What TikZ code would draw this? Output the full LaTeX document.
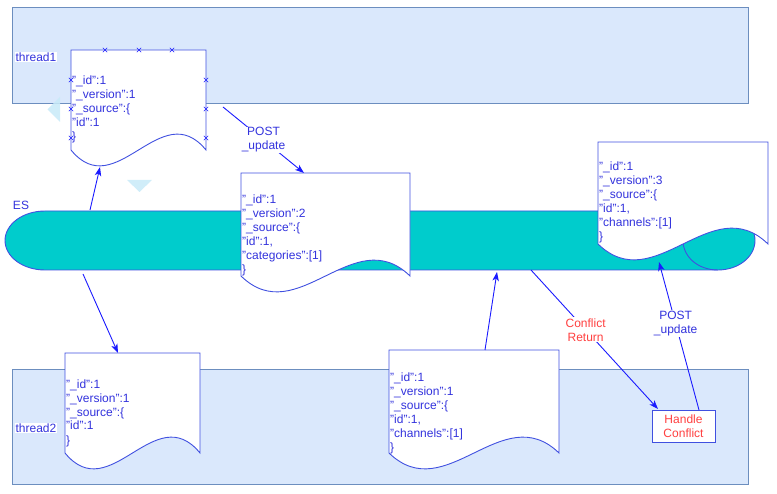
\documentclass[tikz,border=0pt]{standalone}
\usepackage{fontspec}
\setmainfont{Liberation Sans}
\usetikzlibrary{arrows.meta}
\definecolor{boxfill}{HTML}{DAE8FC}
\definecolor{boxline}{HTML}{6C8EBF}
\definecolor{escyan}{HTML}{00CCCC}
\definecolor{docline}{HTML}{4050E0}
\definecolor{txtblue}{HTML}{3333DD}
\definecolor{arrblue}{HTML}{1A1AFF}
\definecolor{txtred}{HTML}{FF4040}
\definecolor{hoverblue}{HTML}{C8EAF8}
\newcommand{\docpath}[4]{%
  \filldraw[docshape] (#1,#2) -- (#3,#2) -- (#3,#4)
    .. controls ({#1+(#3-#1)*2/3},{#4-55}) and ({#1+(#3-#1)/3},{#4+55}) .. (#1,#4) -- cycle;}
\newcommand{\selmark}[2]{%
  \draw[selmk] (#1-2.2,#2-2.2) -- (#1+2.2,#2+2.2) (#1-2.2,#2+2.2) -- (#1+2.2,#2-2.2);}
\begin{document}
\begin{tikzpicture}[x=1pt,y=-1pt,
  every node/.style={font=\fontsize{12}{14}\selectfont},
  thread/.style={fill=boxfill,draw=boxline,line width=1pt},
  docshape/.style={fill=white,draw=docline,line width=0.9pt},
  doctext/.style={text=txtblue,align=left,inner sep=0pt,anchor=base west},
  esshape/.style={fill=escyan,draw=docline,line width=0.9pt},
  conn/.style={draw=arrblue,line width=0.9pt,-{Stealth[length=9pt,width=6.5pt,inset=2.5pt]}},
  lbl/.style={fill=white,align=center,inner sep=1pt},
  tlabel/.style={fill=white,text=txtblue,inner sep=1pt},
  selmk/.style={draw=arrblue,line width=0.6pt},
  hover/.style={fill=hoverblue,opacity=0.85,draw=none}]
\useasboundingbox (0,0) rectangle (777,494);
% thread areas
\filldraw[thread] (12,8) rectangle (748,104);
\filldraw[thread] (12,370) rectangle (748,484);
\node[tlabel] (th1) at (36,57) {thread1};
\node[tlabel] (th2) at (36,428) {thread2};
% hover arrows
\fill[hover] (60,97) -- (47.5,109.5) -- (60,122) -- cycle;
\fill[hover] (127,180) -- (152,180) -- (139.5,192) -- cycle;
% ES cylinder
\filldraw[esshape] (45,211) -- (718,211)
  .. controls (738.4,211) and (755,224.2) .. (755,240.5)
  .. controls (755,256.8) and (738.4,270) .. (718,270) -- (45,270)
  .. controls (22.9,270) and (5,256.8) .. (5,240.5)
  .. controls (5,224.2) and (22.9,211) .. (45,211) -- cycle;
\draw[docline,line width=0.9pt] (718,211) .. controls (698,211) and (683,224.2) .. (683,240.5)
  .. controls (683,256.8) and (698,270) .. (718,270);
\node[text=txtblue] (es) at (21,205) {ES};
% documents (text anchored at the baseline of its last line)
\docpath{71}{50}{206}{150}
\node[doctext] (d1) at (72,141) {"\_id":1\\"\_version":1\\"\_source":\{\\"id":1\\\}};
\docpath{241}{173}{410}{276}
\node[doctext] (d2) at (242,274) {"\_id":1\\"\_version":2\\"\_source":\{\\"id":1,\\"categories":[1]\\\}};
\docpath{598}{142}{768}{244}
\node[doctext] (d3) at (599,241) {"\_id":1\\"\_version":3\\"\_source":\{\\"id":1,\\"channels":[1]\\\}};
\docpath{65}{353}{200}{453}
\node[doctext] (d4) at (66,444) {"\_id":1\\"\_version":1\\"\_source":\{\\"id":1\\\}};
\docpath{389}{350}{559}{453}
\node[doctext] (d5) at (390,451) {"\_id":1\\"\_version":1\\"\_source":\{\\"id":1,\\"channels":[1]\\\}};
% handle conflict
\node[draw=docline,fill=white,line width=0.9pt,text=txtred,align=center,
  minimum width=63pt,minimum height=32pt,inner sep=0pt] (hc) at (683.5,426) {Handle\\Conflict};
% selection marks on doc1
\selmark{105}{50}\selmark{139}{50}\selmark{172}{50}
\selmark{71}{80}\selmark{71}{109}\selmark{71}{138}
\selmark{206}{80}\selmark{206}{109}\selmark{206}{138}
% connector end points
\coordinate (esTop1) at (90,210);
\coordinate (d1bot) at (100,167);
\coordinate (esBot1) at (83,274);
\coordinate (d4top) at (118,353);
\coordinate (d1right) at (223,107);
\coordinate (d2top) at (304,173);
\coordinate (d5top) at (485,350);
\coordinate (esBot2) at (497,272);
\coordinate (esBot3) at (531,270);
\coordinate (hcIn) at (658,409);
\coordinate (hcOut) at (699,410);
\coordinate (d3bot) at (659,262);
% connectors
\draw[conn] (esTop1) -- (d1bot);
\draw[conn] (esBot1) -- (d4top);
\draw[conn] (d1right) -- node[lbl,text=txtblue,pos=0.5] (l1) {POST\\\_update} (d2top);
\draw[conn] (d5top) -- (esBot2);
\draw[conn] (esBot3) -- node[lbl,text=txtred,pos=0.43] (l2) {Conflict\\Return} (hcIn);
\draw[conn] (hcOut) -- node[lbl,text=txtblue,pos=0.585] (l3) {POST\\\_update} (d3bot);
\end{tikzpicture}
\end{document}
